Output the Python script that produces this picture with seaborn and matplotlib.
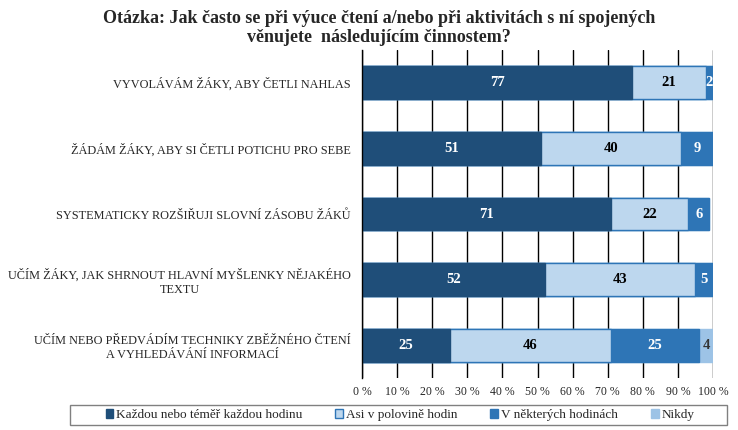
import matplotlib
matplotlib.use("Agg")
import matplotlib.pyplot as plt
import seaborn as sns
import numpy as np
import pandas as pd
from matplotlib.patches import Patch, Rectangle

categories = [
    "VYVOLÁVÁM ŽÁKY, ABY ČETLI NAHLAS",
    "ŽÁDÁM ŽÁKY, ABY SI ČETLI POTICHU PRO SEBE",
    "SYSTEMATICKY ROZŠIŘUJI SLOVNÍ ZÁSOBU ŽÁKŮ",
    "UČÍM ŽÁKY, JAK SHRNOUT HLAVNÍ MYŠLENKY NĚJAKÉHO\nTEXTU",
    "UČÍM NEBO PŘEDVÁDÍM TECHNIKY ZBĚŽNÉHO ČTENÍ\nA VYHLEDÁVÁNÍ INFORMACÍ",
]
series_names = ["Každou nebo téměř každou hodinu", "Asi v polovině hodin",
                "V některých hodinách", "Nikdy"]
kazdou = [77, 51, 71, 52, 25]
polovina = [21, 40, 22, 43, 46]
nekterych = [2, 9, 6, 5, 25]
nikdy = [0, 0, 0, 0, 4]
tick_values = [0, 10, 20, 30, 40, 50, 60, 70, 80, 90, 100]
tick_labels = [f"{v} %" for v in tick_values]
title = "Otázka: Jak často se při výuce čtení a/nebo při aktivitách s ní spojených\nvěnujete  následujícím činnostem?"

colors = ["#1F4E79", "#BDD7EE", "#2E75B6", "#9DC3E6"]
edgecolors = ["#1F4E79", "#2E75B6", "#2E75B6", "#9DC3E6"]
text_colors = ["white", "black", "white", "#333333"]

sns.set_theme(style="white")
plt.rcParams["font.family"] = ["Liberation Serif", "DejaVu Serif"]

fig = plt.figure(figsize=(7.38, 4.30), dpi=100)
ax = fig.add_axes([362 / 738, 1 - 378 / 430, (713 - 362) / 738, (378 - 50) / 430])

series = [kazdou, polovina, nekterych, nikdy]
cum = np.cumsum(np.array(series), axis=0)

for v in tick_values:
    ax.axvline(v, color="black", lw=1.0, zorder=0)

for i in range(len(series) - 1, -1, -1):
    df = pd.DataFrame({"cat": categories, "val": cum[i]})
    sns.barplot(data=df, x="val", y="cat", orient="h", color=colors[i],
                width=0.5, ax=ax, saturation=1, edgecolor=edgecolors[i],
                linewidth=1.0, zorder=2 + (len(series) - i))

for i, s in enumerate(series):
    for j, v in enumerate(s):
        if v <= 0:
            continue
        left = cum[i][j] - v
        ax.text(left + v / 2, j, str(v), ha="center", va="center",
                fontsize=10.5, fontweight="bold", color=text_colors[i], zorder=10)

ax.set_xlim(0, 100)
ax.set_ylim(4.5, -0.5)
ax.set_xticks(tick_values)
ax.set_xticklabels(tick_labels, fontsize=8.5)
ax.set_xlabel("")
ax.set_ylabel("")
ax.set_yticks(range(len(categories)))
ax.set_yticklabels(categories, fontsize=8.8, multialignment="center")
ax.tick_params(axis="y", length=0, pad=8)
ax.tick_params(axis="x", length=0, pad=6)
for side in ["top", "right", "bottom"]:
    ax.spines[side].set_visible(False)
ax.spines["left"].set_color("black")
ax.spines["left"].set_linewidth(1.0)
ax.spines["left"].set_zorder(20)

fig.text(379 / 738, 1 - 10 / 430, title, ha="center", va="top", fontsize=13,
         fontweight="bold", linespacing=1.15)

handles = [Patch(facecolor=colors[i], edgecolor=edgecolors[i], label=series_names[i])
           for i in range(4)]
leg = fig.legend(handles=handles, loc="center", bbox_to_anchor=(400 / 738, 1 - 415 / 430),
                 ncol=4, frameon=False, fontsize=9.5, handlelength=0.6, handleheight=0.6,
                 handletextpad=0.2, columnspacing=2.5, borderpad=0.3)
fig.patches.append(Rectangle((70 / 738, 1 - 425 / 430), (727 - 70) / 738, 20 / 430,
                             transform=fig.transFigure, fill=False,
                             edgecolor="#808080", linewidth=1.0))

fig.savefig("out.png", dpi=100)
